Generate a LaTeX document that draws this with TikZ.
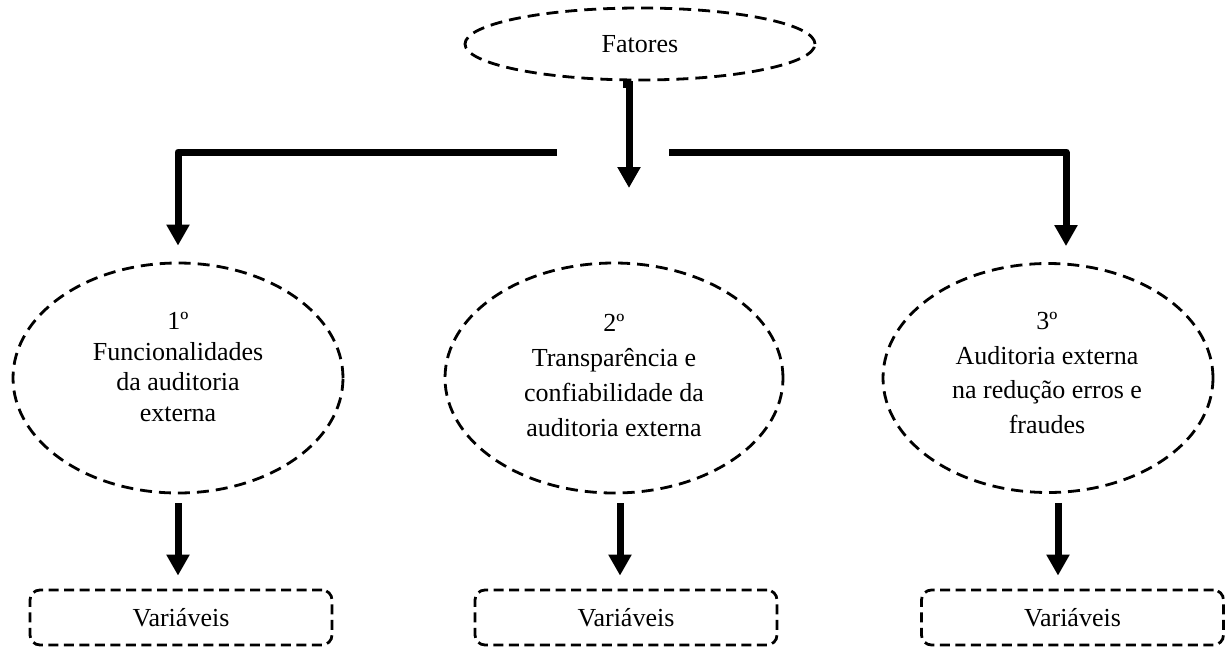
\documentclass[tikz,border=0pt]{standalone}
\usepackage{fontspec}
\setmainfont{Liberation Serif}
\usetikzlibrary{shapes.geometric,arrows.meta}
\tikzset{
  dashell/.style={draw, ellipse, dash pattern=on 12pt off 7pt, line width=2.8pt, inner sep=0pt},
  dashbox/.style={draw, rectangle, rounded corners=10pt, dash pattern=on 10pt off 5.5pt, line width=2.8pt, minimum width=302pt, minimum height=55pt, inner sep=0pt, font={\fontsize{26}{30}\selectfont}},
  etext/.style={align=center, inner sep=0pt, anchor=north},
  arr/.style={line width=7pt, line join=round, -{Triangle[width=22pt,length=21pt]}},
}
\begin{document}
\begin{tikzpicture}[x=1pt,y=-1pt]
\useasboundingbox (0,0) rectangle (1226,648);
% top
\node[dashell, minimum width=350pt, minimum height=72pt, font={\fontsize{26}{30}\selectfont}] (f) at (640,44) {Fatores};
\draw[line width=7pt, line join=miter, -{Triangle[width=22pt,length=21pt]}] ([xshift=-17pt,yshift=-3pt]f.south) -- ([xshift=-11pt,yshift=-3pt]f.south) -- ([xshift=-11pt]f.south |- 0,188);
% ellipses
\node[dashell, minimum width=330pt, minimum height=230pt] (e1) at (178,378) {};
\node[dashell, minimum width=338pt, minimum height=230pt] (e2) at (614,378) {};
\node[dashell, minimum width=330pt, minimum height=229pt] (e3) at (1048,378) {};
\node[etext, font={\fontsize{26}{30.5}\selectfont}] (t1) at (178,312.4) {1º\\Funcionalidades\\da auditoria\\externa};
\node[etext, font={\fontsize{26}{35}\selectfont}] (t2) at (614,314.4) {2º\\Transparência e\\confiabilidade da\\auditoria externa};
\node[etext, font={\fontsize{26}{34.5}\selectfont}] (t3) at (1047,312.4) {3º\\Auditoria externa\\na redução erros e\\fraudes};
% horizontal branches
\coordinate (hl) at (557,152);
\coordinate (hr) at (669,152);
\draw[arr] (hl) -| ([yshift=16pt]e1.north);
\draw[arr] (hr) -| ([xshift=18pt,yshift=16pt]e3.north);
% bottom boxes
\node[dashbox] (v1) at (181,617.5) {Variáveis};
\node[dashbox] (v2) at (626,617.5) {Variáveis};
\node[dashbox] (v3) at (1072.5,617.5) {Variáveis};
\draw[arr] ([yshift=-9pt]e1.south) -- ([xshift=-3pt,yshift=13pt]v1.north);
\draw[arr] ([xshift=6pt,yshift=-9pt]e2.south) -- ([xshift=-6pt,yshift=13pt]v2.north);
\draw[arr] ([xshift=10pt,yshift=-9pt]e3.south) -- ([xshift=-14.5pt,yshift=13pt]v3.north);
\end{tikzpicture}
\end{document}
